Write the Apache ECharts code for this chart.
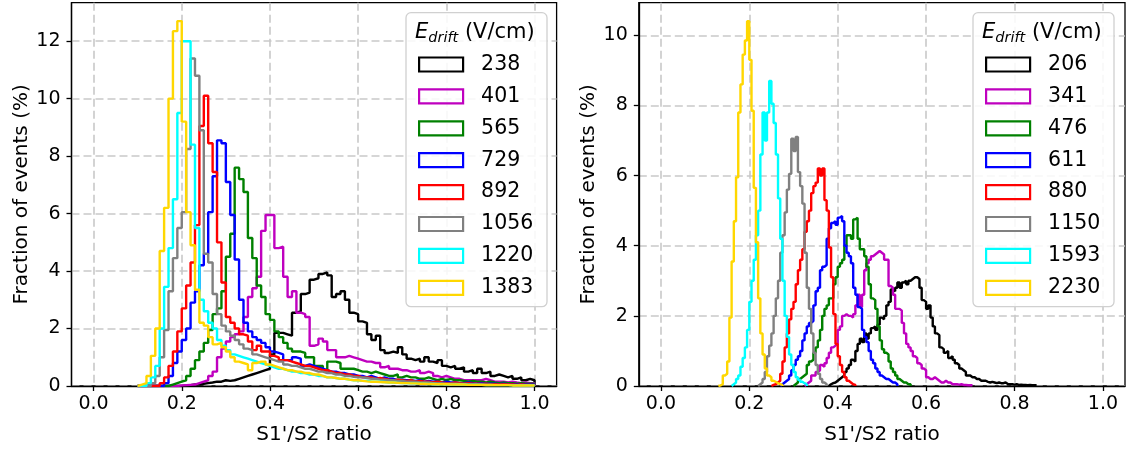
<!DOCTYPE html>
<html><head><meta charset="utf-8">
<script src="https://cdn.jsdelivr.net/npm/echarts@6/dist/echarts.min.js"></script>
<style>html,body{margin:0;padding:0;background:#fff}#c{width:1128px;height:450px}</style>
</head><body><div id="c"></div>
<script>
// ---------------- data ----------------
const leftNames  = ['238','401','565','729','892','1056','1220','1383'];
const rightNames = ['206','341','476','611','880','1150','1593','2230'];
const colors = ['#000000','#bf00bf','#008000','#0000ff','#ff0000','#808080','#00ffff','#ffd700'];
const xTicks = [0, 0.2, 0.4, 0.6, 0.8, 1.0];
const leftYTicks = [0, 2, 4, 6, 8, 10, 12];
const rightYTicks = [0, 2, 4, 6, 8, 10];

// left panel: bins of width 0.01 starting at 0.10 (fraction of events, %)
const leftBinStart = 0.10;
const leftBinWidth = 0.01;
const L238 = [0,0,0,0,0,0,0,0,0,0,
  0.02,0.03,0.05,0.05,0.08,0.1,0.12,0.15,0.15,0.2,
  0.18,0.2,0.25,0.3,0.35,0.4,0.45,0.5,0.55,0.6,
  1.1,1.85,1.85,1.8,1.75,2.55,2.6,3.2,3.25,3.7,
  3.75,3.9,3.95,3.85,3.1,3.2,3.3,3.0,2.55,2.5,
  2.25,2.2,1.8,1.6,1.75,1.25,1.15,1.2,1.15,1.35,
  1.1,0.95,0.9,0.95,0.85,1.0,0.85,0.8,0.9,0.7,
  0.65,0.7,0.6,0.65,0.5,0.55,0.45,0.6,0.45,0.5,
  0.35,0.4,0.35,0.3,0.35,0.25,0.3,0.2,0.25,0.2];
const L401 = [0,0,0,0,0,0,0,0,0,0.02,
  0.03,0.04,0.05,0.1,0.15,0.2,0.35,0.5,1.0,1.3,
  1.55,1.7,1.8,1.9,2.4,3.1,3.4,3.8,5.4,5.95,
  5.95,4.8,4.85,3.8,3.1,3.3,2.55,2.5,2.4,1.4,
  1.45,1.65,1.55,1.25,1.25,1.0,1.0,1.05,1.0,0.95,
  0.9,0.85,0.85,0.8,0.8,0.65,0.7,0.6,0.6,0.55,
  0.55,0.5,0.5,0.55,0.45,0.5,0.45,0.35,0.3,0.35,
  0.3,0.25,0.25,0.2,0.2,0.2,0.2,0.2,0.25,0.2,
  0.15,0.15,0.15,0.12,0.15,0.12,0.1,0.12,0.1,0.1];
const L565 = [0,0,0,0,0,0,0,0.05,0.1,0.15,
  0.2,0.35,0.6,0.9,1.2,1.5,1.95,2.5,2.7,3.3,
  4.5,5.3,7.6,7.2,6.75,5.15,4.45,3.5,3.1,2.5,
  2.3,1.9,1.7,1.5,1.3,1.2,1.2,1.15,1.0,1.0,
  0.7,0.7,0.55,0.85,0.85,0.8,0.6,0.6,0.6,0.55,
  0.5,0.5,0.45,0.5,0.45,0.4,0.35,0.35,0.4,0.3,
  0.35,0.3,0.3,0.25,0.25,0.3,0.25,0.2,0.25,0.2,
  0.25,0.2,0.2,0.18,0.15,0.18,0.15,0.15,0.12,0.15,
  0.12,0.1,0.12,0.1,0.1,0.08,0.1,0.08,0.08,0.08];
const L729 = [0,0,0,0,0,0,0.1,0.35,0.8,1.2,
  1.6,2.0,2.9,3.3,4.2,4.6,6.05,7.3,8.55,8.45,
  7.1,5.95,4.4,3.0,2.2,1.9,1.7,1.6,1.5,1.35,
  1.2,1.15,1.1,0.9,0.9,1.0,0.95,0.7,0.75,0.7,
  0.65,0.6,0.55,0.5,0.5,0.45,0.45,0.4,0.4,0.35,
  0.35,0.3,0.35,0.3,0.25,0.3,0.25,0.25,0.2,0.22,
  0.2,0.2,0.18,0.2,0.15,0.18,0.15,0.15,0.12,0.15,
  0.12,0.12,0.1,0.1,0.12,0.1,0.08,0.1,0.08,0.08,
  0.08,0.06,0.08,0.06,0.06,0.05,0.06,0.05,0.05,0.05];
const L892 = [0,0,0,0,0,0.1,0.3,0.7,1.2,1.9,
  2.7,3.5,4.3,5.6,9.05,10.1,8.45,7.45,5.0,3.6,
  2.4,2.2,2.0,1.8,1.75,1.55,1.25,1.4,1.2,1.2,
  1.05,1.0,0.9,0.9,0.85,0.8,0.75,0.7,0.7,0.65,
  0.6,0.55,0.55,0.5,0.45,0.45,0.4,0.4,0.35,0.35,
  0.3,0.3,0.3,0.25,0.28,0.25,0.22,0.2,0.22,0.2,
  0.18,0.2,0.15,0.18,0.15,0.15,0.12,0.15,0.12,0.1,
  0.1,0.12,0.1,0.08,0.1,0.08,0.08,0.07,0.08,0.06,
  0.06,0.05,0.06,0.05,0.05,0.04,0.05,0.04,0.04,0.04];
const L1056 = [0,0,0,0.1,0.35,1.0,1.95,3.3,4.45,5.5,
  6.05,8.25,11.4,10.8,8.9,4.6,4.3,3.2,2.5,2.1,
  1.9,1.75,1.6,1.45,1.3,1.25,1.1,1.05,1.0,0.95,
  0.9,0.85,0.85,0.75,0.7,0.7,0.65,0.6,0.6,0.55,
  0.5,0.5,0.45,0.45,0.4,0.4,0.35,0.35,0.32,0.3,
  0.3,0.28,0.25,0.25,0.22,0.22,0.2,0.2,0.18,0.18,
  0.15,0.15,0.15,0.12,0.12,0.12,0.1,0.1,0.1,0.08,
  0.08,0.08,0.07,0.07,0.06,0.06,0.06,0.05,0.05,0.05,
  0.04,0.04,0.04,0.04,0.03,0.03,0.03,0.03,0.03,0.03];
const L1220 = [0,0,0.1,0.3,0.7,2.0,3.45,4.8,6.5,9.5,
  12.0,12.0,8.4,5.5,3.0,2.6,2.2,2.0,1.6,1.4,
  1.25,1.1,1.05,1.0,0.95,0.9,0.85,0.8,0.75,0.7,
  0.65,0.6,0.6,0.55,0.5,0.5,0.45,0.45,0.4,0.4,
  0.35,0.35,0.3,0.3,0.28,0.25,0.25,0.22,0.2,0.2,
  0.18,0.18,0.16,0.15,0.15,0.14,0.12,0.12,0.11,0.1,
  0.1,0.09,0.09,0.08,0.08,0.07,0.07,0.06,0.06,0.06,
  0.05,0.05,0.05,0.05,0.04,0.04,0.04,0.04,0.03,0.03,
  0.03,0.03,0.03,0.03,0.02,0.02,0.02,0.02,0.02,0.02];
const L1383 = [0.05,0.1,0.35,1.05,2.0,4.7,6.2,10.0,12.35,12.7,
  9.2,6.05,4.9,3.35,2.2,2.1,1.7,1.45,1.5,1.35,
  1.2,1.0,0.85,0.8,0.75,0.55,0.8,0.85,0.85,0.75,
  0.7,0.65,0.6,0.55,0.55,0.5,0.5,0.45,0.45,0.4,
  0.4,0.35,0.3,0.3,0.28,0.25,0.25,0.22,0.2,0.2,
  0.18,0.16,0.15,0.15,0.14,0.13,0.12,0.12,0.11,0.1,
  0.1,0.09,0.09,0.08,0.08,0.07,0.07,0.06,0.06,0.06,
  0.05,0.05,0.05,0.05,0.04,0.04,0.04,0.04,0.03,0.03,
  0.03,0.03,0.03,0.03,0.02,0.02,0.02,0.02,0.02,0.02];

// right panel: bins of width 0.005, each series has its own first bin edge
const rightBinWidth = 0.005;
const rightStarts = [0.380, 0.325, 0.300, 0.270, 0.250, 0.220, 0.160, 0.130];
const R206 = [0.05,0.08,0.1,0.15,0.2,0.25,0.3,0.4,0.5,0.6,
  0.75,0.7,1.0,1.2,1.35,1.25,1.5,1.35,1.5,1.65,
  1.7,1.6,1.75,1.95,1.9,2.0,2.3,2.4,2.75,2.7,
  2.8,2.95,2.8,2.95,3.0,2.9,3.0,3.05,3.1,3.1,
  3.05,2.8,2.45,2.4,2.2,2.3,1.95,1.7,1.5,1.45,
  1.1,1.05,0.95,1.0,0.8,0.85,0.75,0.65,0.6,0.5,
  0.45,0.4,0.3,0.3,0.25,0.25,0.2,0.2,0.15,0.15,
  0.15,0.12,0.1,0.12,0.1,0.08,0.1,0.08,0.08,0.1,
  0.06,0.05,0.05,0.04,0.05,0.03,0.04,0.03,0.03,0.02,
  0.03,0.02,0.02,0.02];
const R341 = [0.05,0.1,0.15,0.3,0.3,0.4,0.45,0.6,0.55,0.65,
  0.8,0.95,1.1,1.15,1.2,1.6,1.7,2.0,2.05,2.0,
  2.0,1.95,2.05,2.3,2.6,2.25,2.6,3.3,3.5,3.6,
  3.7,3.75,3.8,3.85,3.8,3.75,3.6,3.6,2.85,2.8,
  2.6,2.2,2.2,2.15,1.8,1.5,1.2,1.1,1.0,0.85,
  0.8,0.65,0.6,0.5,0.45,0.25,0.2,0.2,0.25,0.2,
  0.15,0.1,0.1,0.15,0.1,0.1,0.05,0.05,0.05,0.04,
  0.05,0.03,0.03,0.02,0.02,0.02];
const R476 = [0.05,0.1,0.2,0.25,0.3,0.35,0.6,0.7,0.75,0.95,
  1.1,1.3,1.6,2.0,2.2,2.3,2.5,2.5,2.9,3.1,
  3.4,3.5,3.6,4.0,4.3,4.3,4.2,4.75,4.8,4.2,
  3.9,3.9,3.7,3.4,2.9,2.5,2.45,2.2,1.7,1.3,
  1.05,0.95,0.9,0.7,0.5,0.4,0.3,0.2,0.15,0.1,
  0.1,0.05,0.05];
const R611 = [0.05,0.1,0.15,0.2,0.3,0.45,0.6,0.75,0.85,1.0,
  1.3,1.5,1.7,1.8,1.85,2.3,2.7,2.8,3.3,3.4,
  3.45,4.2,4.5,4.65,4.7,4.6,4.8,4.85,4.7,4.0,
  3.8,3.7,3.5,2.8,2.6,2.25,2.2,1.6,1.4,1.25,
  1.0,0.75,0.65,0.5,0.4,0.3,0.25,0.2,0.2,0.15,
  0.1,0.1,0.05];
const R880 = [0.03,0.05,0.1,0.15,0.35,0.7,1.1,1.5,1.9,2.2,
  2.4,2.9,3.3,3.6,3.9,4.4,4.7,5.0,5.5,5.7,
  5.8,6.2,6.0,6.2,5.3,5.0,3.95,3.1,2.05,1.2,
  0.85,0.6,0.4,0.25,0.15,0.1,0.05,0.03];
const R1150 = [0.05,0.1,0.2,0.4,0.85,1.15,1.5,2.0,2.5,3.0,
  3.8,4.3,4.95,5.6,6.05,7.05,6.7,7.1,6.1,5.7,
  5.2,3.8,2.8,2.2,1.5,0.95,0.6,0.35,0.2,0.1,
  0.05];
const R1593 = [0.05,0.1,0.2,0.3,0.55,0.8,1.1,1.6,2.4,3.0,
  3.6,4.3,5.0,6.6,7.8,7.0,7.8,8.7,8.05,7.5,
  6.6,5.35,4.2,3.0,2.0,1.4,0.9,0.6,0.4,0.25,
  0.18,0.12,0.08,0.05];
const R2230 = [0.02,0.05,0.3,0.35,0.7,1.95,3.55,4.7,5.95,7.8,
  8.6,9.45,9.85,10.4,9.3,7.85,5.65,4.1,2.5,1.5,
  0.9,0.5,0.3,0.25,0.15,0.12,0.08,0.05,0.03];

const leftValues  = [L238, L401, L565, L729, L892, L1056, L1220, L1383];
const rightValues = [R206, R341, R476, R611, R880, R1150, R1593, R2230];

// ---------------- chart ----------------
const FONT = 'DejaVu Sans';
function stepData(start, w, vals) {
  const d = [[start, 0]];
  vals.forEach((v, i) => d.push([+(start + i * w).toFixed(4), v]));
  const end = +(start + vals.length * w).toFixed(4);
  d.push([end, vals[vals.length - 1]]);
  d.push([end, 0]);
  return d;
}
const series = [];
leftNames.forEach((n, i) => series.push({
  name: n, type: 'line', xAxisIndex: 0, yAxisIndex: 0, step: 'end', showSymbol: false, symbol: 'none',
  data: stepData(leftBinStart, leftBinWidth, leftValues[i]),
  lineStyle: { color: colors[i], width: 2.4 }, itemStyle: { color: colors[i] }, z: 2 + i * 0.01
}));
rightNames.forEach((n, i) => series.push({
  name: n, type: 'line', xAxisIndex: 1, yAxisIndex: 1, step: 'end', showSymbol: false, symbol: 'none',
  data: stepData(rightStarts[i], rightBinWidth, rightValues[i]),
  lineStyle: { color: colors[i], width: 2.4 }, itemStyle: { color: colors[i] }, z: 2 + i * 0.01
}));

const gridLine = { show: true, lineStyle: { type: [8, 4], color: '#c9c9c9', width: 1.6 } };
function xAxisCfg(idx) {
  return {
    gridIndex: idx, type: 'value', min: -0.05, max: 1.05,
    axisLine: { show: true, onZero: false, lineStyle: { color: '#000', width: 1.3 } },
    axisTick: { show: true, customValues: xTicks, length: 5, lineStyle: { color: '#000', width: 1.3 } },
    axisLabel: { customValues: xTicks, formatter: v => v.toFixed(1), fontSize: 19, color: '#000', margin: 9, fontFamily: FONT },
    splitLine: gridLine,
    name: "S1'/S2 ratio", nameLocation: 'middle', nameGap: 39,
    nameTextStyle: { fontSize: 20, color: '#000', fontFamily: FONT }
  };
}
function yAxisCfg(idx, max, ticks) {
  return {
    gridIndex: idx, type: 'value', min: 0, max: max,
    axisLine: { show: true, onZero: false, lineStyle: { color: '#000', width: 1.3 } },
    axisTick: { show: true, customValues: ticks, length: 5, lineStyle: { color: '#000', width: 1.3 } },
    axisLabel: { customValues: ticks, fontSize: 19, color: '#000', margin: 11, fontFamily: FONT },
    splitLine: gridLine,
    name: 'Fraction of events (%)', nameLocation: 'middle', nameRotate: 90, nameGap: 40,
    nameTextStyle: { fontSize: 20, color: '#000', fontFamily: FONT }
  };
}
function legendCfg(names, left) {
  return {
    orient: 'vertical', left: left, top: 49, itemWidth: 44, itemHeight: 14, itemGap: 10.9, z: 20,
    icon: 'rect', selectedMode: false,
    textStyle: { fontSize: 20.5, lineHeight: 20, color: '#000', fontFamily: FONT, padding: [0, 0, 0, 13] },
    data: names.map((n, i) => ({ name: n, icon: 'rect',
      itemStyle: { color: 'rgba(255,255,255,0)', borderColor: colors[i], borderWidth: 2.2 } }))
  };
}
function legendBox(x) {
  return { type: 'rect', z: 10, shape: { x: x, y: 12.7, width: 141, height: 294, r: 5 },
           style: { fill: 'rgba(255,255,255,0.85)', stroke: '#d0d0d0', lineWidth: 1.3 } };
}
function legendTitle(x) {
  return { type: 'text', z: 21, x: x, y: 20,
    style: { text: '{e|E}{s|drift}{n| (V/cm)}', fill: '#000',
      rich: { e: { fontSize: 21, fontStyle: 'italic', fontFamily: FONT, fill: '#000', lineHeight: 26 },
              s: { fontSize: 14.5, fontStyle: 'italic', fontFamily: FONT, fill: '#000', verticalAlign: 'bottom', lineHeight: 26 },
              n: { fontSize: 21, fontFamily: FONT, fill: '#000', lineHeight: 26 } } } };
}

const chart = echarts.init(document.getElementById('c'), null, { renderer: 'canvas' });
chart.setOption({
  animation: false,
  backgroundColor: '#fff',
  textStyle: { fontFamily: FONT },
  grid: [
    { left: 71.5, right: 1128 - 556.6, top: 2.7, bottom: 62.3, show: true, borderColor: '#000', borderWidth: 1.3, containLabel: false },
    { left: 638.8, right: 3, top: 2.7, bottom: 62.3, show: true, borderColor: '#000', borderWidth: 1.3, containLabel: false }
  ],
  xAxis: [xAxisCfg(0), xAxisCfg(1)],
  yAxis: [yAxisCfg(0, 13.34, leftYTicks), yAxisCfg(1, 10.93, rightYTicks)],
  legend: [legendCfg(leftNames, 413), legendCfg(rightNames, 980)],
  graphic: [legendBox(406), legendBox(973), legendTitle(415), legendTitle(982)],
  series: series
});
</script></body></html>
